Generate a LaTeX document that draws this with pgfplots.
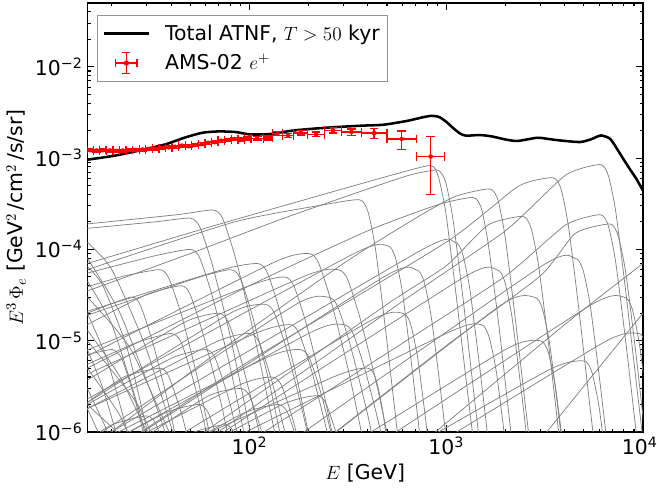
\documentclass[border=0pt]{standalone}
\usepackage{fontspec}
\setmainfont{DejaVu Sans}
\usepackage{pgfplots}
\pgfplotsset{compat=1.18}
\usepackage{pgfplotstable}
\usetikzlibrary{calc}

\newcommand{\fs}{\fontsize{15.3}{18.4}\selectfont}

\pgfplotsset{
 psr/.style={color=gray, line width=0.55pt, smooth, tension=0.35, forget plot},
 amsleg/.style={legend image code/.code={
   \path[draw=none, fill=none] (0pt,-1pt) rectangle (44pt,1pt);
   \draw[red, line width=1pt] (9pt,0pt) -- (25pt,0pt);
   \draw[red, line width=1pt] (17pt,-8pt) -- (17pt,8pt);
   \draw[red, line width=1pt] (9pt,-3pt) -- (9pt,3pt);
   \draw[red, line width=1pt] (25pt,-3pt) -- (25pt,3pt);
   \draw[red, line width=1pt] (14pt,-8pt) -- (20pt,-8pt);
   \draw[red, line width=1pt] (14pt,8pt) -- (20pt,8pt);
   \fill[red] (17pt,0pt) circle (1.6pt);
 }},
 totleg/.style={legend image code/.code={
   \path[draw=none, fill=none] (0pt,-1pt) rectangle (44pt,1pt);
   \draw[black, line width=1.9pt] (0pt,0pt) -- (34pt,0pt);}},
}

\pgfplotstableread{
E V exm exp eym eyp
15.5 1.22e-3 0.58 0.60 4e-5 4e-5
16.7 1.21e-3 0.63 0.65 4e-5 4e-5
18.0 1.22e-3 0.68 0.70 4e-5 4e-5
19.5 1.21e-3 0.73 0.76 4e-5 4e-5
21.0 1.20e-3 0.79 0.82 4e-5 4e-5
22.7 1.21e-3 0.85 0.89 4e-5 4e-5
24.5 1.22e-3 0.92 0.96 4e-5 4e-5
26.5 1.23e-3 0.99 1.03 4e-5 4e-5
28.6 1.24e-3 1.07 1.12 4e-5 4e-5
30.9 1.26e-3 1.16 1.21 4e-5 4e-5
33.4 1.27e-3 1.25 1.30 4.5e-5 4.5e-5
36.0 1.29e-3 1.35 1.40 4.5e-5 4.5e-5
38.9 1.31e-3 1.46 1.52 4.5e-5 4.5e-5
42.0 1.33e-3 1.58 1.64 5e-5 5e-5
45.4 1.37e-3 1.70 1.77 5e-5 5e-5
49.0 1.35e-3 1.84 1.91 5e-5 5e-5
52.9 1.39e-3 1.98 2.06 5e-5 5e-5
57.2 1.42e-3 2.15 2.23 5.5e-5 5.5e-5
61.7 1.47e-3 2.31 2.41 5.5e-5 5.5e-5
66.7 1.50e-3 2.50 2.60 5.5e-5 5.5e-5
72.0 1.55e-3 2.70 2.81 6e-5 6e-5
77.8 1.58e-3 2.92 3.03 6e-5 6e-5
84.0 1.62e-3 3.15 3.28 6e-5 6e-5
90.7 1.60e-3 3.40 3.54 6.5e-5 6.5e-5
98.0 1.64e-3 3.68 3.82 6.5e-5 6.5e-5
109.6 1.65e-3 7.8 8.4 7e-5 7e-5
124.3 1.66e-3 6.3 6.7 8e-5 8e-5
138.8 1.85e-3 7.8 8.2 9e-5 9e-5
157.1 1.77e-3 10.1 10.9 9e-5 9e-5
182.4 1.89e-3 14.4 15.6 1.0e-4 1.0e-4
218.4 1.82e-3 20.4 22.6 1.1e-4 1.1e-4
265.7 2.02e-3 24.7 27.3 1.3e-4 1.3e-4
329.3 1.93e-3 36.3 40.7 1.6e-4 1.6e-4
430.1 1.88e-3 60.1 69.9 2.3e-4 2.3e-4
594.1 1.62e-3 94.1 111.9 3.7e-4 3.6e-4
833.1 1.04e-3 127.1 149.9 6.4e-4 6.7e-4
}\ams

\begin{document}
\begin{tikzpicture}
\begin{axis}[
  scale only axis, width=416.8pt, height=321.75pt,
  xmode=log, ymode=log,
  xmin=15, xmax=10000, ymin=1e-6, ymax=5e-2,
  axis line style={black, line width=0.9pt},
  tick align=inside, tick pos=both,
  major tick length=5pt, minor tick length=2.5pt,
  every tick/.style={black, line width=0.8pt},
  xtick={100,1000,10000},
  xticklabels={10\textsuperscript{2},10\textsuperscript{3},10\textsuperscript{4}\kern5pt},
  minor xtick={20,30,40,50,60,70,80,90,200,300,400,500,600,700,800,900,2000,3000,4000,5000,6000,7000,8000,9000},
  ytick={1e-6,1e-5,1e-4,1e-3,1e-2},
  yticklabels={10\textsuperscript{−6},10\textsuperscript{−5},10\textsuperscript{−4},10\textsuperscript{−3},10\textsuperscript{−2}},
  minor ytick={2e-6,3e-6,4e-6,5e-6,6e-6,7e-6,8e-6,9e-6,2e-5,3e-5,4e-5,5e-5,6e-5,7e-5,8e-5,9e-5,2e-4,3e-4,4e-4,5e-4,6e-4,7e-4,8e-4,9e-4,2e-3,3e-3,4e-3,5e-3,6e-3,7e-3,8e-3,9e-3,2e-2,3e-2,4e-2},
  tick label style={font=\fs},
  label style={font=\fs},
  xlabel={$E$ [GeV]},
  ylabel={$E^3\,\Phi_e$ [GeV$^2$\,/cm$^2$\,/s/sr]},
  legend cell align=left,
  legend style={at={(0,1)}, anchor=north west, xshift=7pt, yshift=-9pt,
    draw=gray!85, line width=0.75pt, font=\fs, inner xsep=4pt, inner ysep=5pt, row sep=5pt},
]
\addlegendimage{totleg}
\addlegendentry{Total ATNF, $T>50$ kyr}
\addlegendimage{amsleg}
\addlegendentry{AMS-02 $e^+$}

% ---- individual pulsars ----
\addplot[psr] coordinates {(15,7e-5) (65,1.8e-4) (200,3.6e-4) (500,6.3e-4) (830,8.3e-4) (913,6.2e-4) (996,2.5e-4) (1120,3.3e-5) (1290,2.5e-6) (1500,1.7e-7)};
\addplot[psr] coordinates {(15,3.5e-5) (50,9e-5) (150,2.2e-4) (400,4.6e-4) (650,6.5e-4) (900,7.4e-4) (990,5.6e-4) (1080,2.2e-4) (1215,3e-5) (1395,2.2e-6) (1620,1.5e-7)};
\addplot[psr] coordinates {(16,7e-7) (60,6e-6) (300,7e-5) (700,2.2e-4) (1110,3.8e-4) (1660,4.6e-4) (1830,3.5e-4) (1990,1.4e-4) (2240,1.8e-5) (2570,1.4e-6) (3000,9e-8)};
\addplot[psr] coordinates {(22,7e-7) (100,6e-6) (1000,1.2e-4) (2320,4.9e-4) (3480,6.1e-4) (3830,4.6e-4) (4180,1.8e-4) (4700,2.4e-5) (5390,1.8e-6) (6260,1.2e-7)};
\addplot[psr] coordinates {(60,8e-7) (600,2.7e-5) (2000,1.6e-4) (4040,6.5e-4) (6060,8.5e-4) (6670,6.4e-4) (7270,2.6e-4) (8180,3.4e-5) (9390,2.6e-6) (10900,1.7e-7)};
\addplot[psr] coordinates {(55,9e-7) (500,2.5e-5) (1000,6.6e-5) (1630,1.85e-4) (2450,2.3e-4) (2700,1.7e-4) (2940,6.9e-5) (3310,9.2e-6) (3800,6.9e-7)};
\addplot[psr] coordinates {(110,9e-7) (600,9.4e-6) (2000,5.1e-5) (4040,1.85e-4) (6060,2.4e-4) (6670,1.8e-4) (7270,7.2e-5) (8180,9.6e-6) (9390,7.2e-7)};
\addplot[psr] coordinates {(240,8e-7) (1000,8.8e-6) (3000,5.1e-5) (4530,1.5e-4) (6800,1.9e-4) (7480,1.4e-4) (8160,5.7e-5) (9180,7.6e-6) (10500,5.7e-7)};
\addplot[psr] coordinates {(15,5e-6) (100,4e-5) (400,1.6e-4) (913,3.1e-4) (1370,3.7e-4) (1510,2.8e-4) (1640,1.1e-4) (1850,1.5e-5) (2120,1.1e-6) (2470,7.4e-8)};
\addplot[psr] coordinates {(15,6e-5) (84,2.0e-4) (242,3.1e-4) (363,3.5e-4) (400,2.6e-4) (436,1.05e-4) (490,1.4e-5) (563,1.05e-6) (653,7e-8)};
\addplot[psr] coordinates {(15,1.9e-4) (43,2.4e-4) (65,2.7e-4) (73,2.2e-4) (85,8e-5) (104,1.35e-5) (137,8e-7) (180,3e-8)};
\addplot[psr] coordinates {(15,1.7e-4) (33,2.0e-4) (50,2.2e-4) (56,1.75e-4) (65,6.6e-5) (80,1.1e-5) (105,6.6e-7) (140,2.2e-8)};
\addplot[psr] coordinates {(15,2.3e-6) (333,8.8e-5) (500,1.1e-4) (550,8.3e-5) (600,3.3e-5) (675,4.4e-6) (775,3.3e-7)};
\addplot[psr] coordinates {(17.5,5e-7) (467,4.8e-5) (700,6e-5) (770,4.5e-5) (840,1.8e-5) (945,2.4e-6) (1085,1.8e-7)};
\addplot[psr] coordinates {(15,7e-7) (733,9.6e-5) (1100,1.2e-4) (1210,9e-5) (1320,3.6e-5) (1485,4.8e-6) (1705,3.6e-7)};
\addplot[psr] coordinates {(45,5e-7) (1200,4.8e-5) (1800,6e-5) (1980,4.5e-5) (2160,1.8e-5) (2430,2.4e-6) (2790,1.8e-7)};
\addplot[psr] coordinates {(183,5e-7) (1870,2.4e-5) (2800,3e-5) (3080,2.25e-5) (3360,9e-6) (3780,1.2e-6) (4340,9e-8)};
\addplot[psr] coordinates {(120,5e-7) (3000,6.4e-5) (4500,8e-5) (4950,6e-5) (5400,2.4e-5) (6075,3.2e-6) (6975,2.4e-7)};
\addplot[psr] coordinates {(248,5e-7) (2000,8e-6) (3000,1e-5) (3300,7.5e-6) (3600,3e-6) (4050,4e-7)};
\addplot[psr] coordinates {(342,5e-7) (5330,2.4e-5) (8000,3e-5) (8800,2.25e-5) (9600,9e-6) (10800,1.2e-6)};
\addplot[psr] coordinates {(50,5e-7) (1000,1.2e-5) (1500,1.5e-5) (1650,1.1e-5) (1800,4.5e-6) (2025,6e-7)};
\addplot[psr] coordinates {(522,5e-7) (3330,4.8e-6) (5000,6e-6) (5500,4.5e-6) (6000,1.8e-6) (6750,2.4e-7)};
\addplot[psr] coordinates {(27.8,5e-7) (400,1.6e-5) (600,2e-5) (660,1.5e-5) (720,6e-6) (810,8e-7) (930,6e-8)};
\addplot[psr] coordinates {(31,5e-7) (267,4e-6) (400,5e-6) (440,3.75e-6) (480,1.5e-6) (540,2e-7)};
\addplot[psr] coordinates {(672,5e-7) (6330,9.6e-6) (9500,1.2e-5) (10450,9e-6)};
\addplot[psr] coordinates {(600,5e-7) (4000,1.5e-5) (10000,7e-5)};
\addplot[psr] coordinates {(2500,5e-7) (10000,2e-5)};
\addplot[psr] coordinates {(15,6.8e-6) (133,7.2e-5) (200,9e-5) (224,7.2e-5) (260,2.7e-5) (320,4.5e-6) (420,2.7e-7)};
\addplot[psr] coordinates {(15,7.9e-6) (100,4e-5) (150,5e-5) (168,4e-5) (195,1.5e-5) (240,2.5e-6) (315,1.5e-7)};
\addplot[psr] coordinates {(15,2.1e-6) (80,2e-5) (120,2.5e-5) (134,2e-5) (156,7.5e-6) (192,1.25e-6) (252,7.5e-8)};
\addplot[psr] coordinates {(15,7.8e-7) (167,2.4e-5) (250,3e-5) (280,2.4e-5) (325,9e-6) (400,1.5e-6) (525,9e-8)};
\addplot[psr] coordinates {(15,5.6e-7) (200,1.2e-5) (300,1.5e-5) (336,1.2e-5) (390,4.5e-6) (480,7.5e-7) (630,4.5e-8)};
\addplot[psr] coordinates {(15,1.9e-5) (53,4.8e-5) (80,6e-5) (90,4.8e-5) (104,1.8e-5) (128,3e-6) (168,1.8e-7)};
\addplot[psr] coordinates {(15,1.8e-6) (67,9.6e-6) (100,1.2e-5) (112,9.6e-6) (130,3.6e-6) (160,6e-7) (210,3.6e-8)};
\addplot[psr] coordinates {(15,3.7e-6) (47,1.6e-5) (70,2e-5) (78,1.6e-5) (91,6e-6) (112,1e-6) (147,6e-8)};
\addplot[psr] coordinates {(15,1.5e-5) (30,3.2e-5) (45,4e-5) (50,3.2e-5) (58,1.2e-5) (72,2e-6) (95,1.2e-7)};
\addplot[psr] coordinates {(15,6.7e-7) (120,6.4e-6) (180,8e-6) (202,6.4e-6) (234,2.4e-6) (288,4e-7)};
\addplot[psr] coordinates {(16.3,5e-7) (87,3.2e-6) (130,4e-6) (146,3.2e-6) (169,1.2e-6) (208,2e-7)};
\addplot[psr] coordinates {(15,2e-6) (40,6.4e-6) (60,8e-6) (67,6.4e-6) (78,2.4e-6) (96,4e-7)};
\addplot[psr] coordinates {(15,5.5e-6) (27,9.6e-6) (40,1.2e-5) (45,9.6e-6) (52,3.6e-6) (64,6e-7) (84,3.6e-8)};
\addplot[psr] coordinates {(20,5e-7) (60,2.4e-6) (90,3e-6) (101,2.4e-6) (117,9e-7) (144,1.5e-7)};
\addplot[psr] coordinates {(44,5e-7) (147,2e-6) (220,2.5e-6) (246,2e-6) (286,7.5e-7) (352,1.25e-7)};
\addplot[psr] coordinates {(15,2.1e-6) (23,4e-6) (35,5e-6) (39,4e-6) (45.5,1.5e-6) (56,2.5e-7)};
\addplot[psr] coordinates {(15,5.5e-7) (37,1.6e-6) (55,2e-6) (62,1.6e-6) (72,6e-7) (88,1e-7)};
\addplot[psr] coordinates {(15,1.8e-6) (107,1.2e-5) (160,1.5e-5) (179,1.2e-5) (208,4.5e-6) (256,7.5e-7) (336,4.5e-8)};
\addplot[psr] coordinates {(15,2.1e-5) (73,6e-5) (110,7e-5) (123,5.6e-5) (143,2.1e-5) (176,3.5e-6) (231,2.1e-7)};
\addplot[psr] coordinates {(15,4.3e-6) (187,5e-5) (280,6e-5) (314,4.8e-5) (364,1.8e-5) (448,3e-6) (588,1.8e-7)};
\addplot[psr] coordinates {(15,2e-5) (25,3e-5) (28,2.4e-5) (32.5,9e-6) (40,1.5e-6) (52.5,9e-8)};
\addplot[psr] coordinates {(15,7e-6) (20,8e-6) (22.4,6.4e-6) (26,2.4e-6) (32,4e-7) (42,2.4e-8)};
\addplot[psr] coordinates {(15,8e-7) (20,1.2e-6) (30,1.5e-6) (33.6,1.2e-6) (39,4.5e-7)};
\addplot[psr] coordinates {(25,4e-7) (50,9.6e-7) (75,1.2e-6) (84,9.6e-7) (97.5,3.6e-7)};
\addplot[psr] coordinates {(35,5e-7) (93,1.6e-6) (140,2e-6) (157,1.6e-6) (182,6e-7)};
\addplot[psr] coordinates {(15,5.5e-5) (33,8.5e-5) (50,1e-4) (56,8e-5) (65,3e-5) (80,5e-6) (105,3e-7)};
\addplot[psr] coordinates {(15,3.9e-5) (23,5.1e-5) (35,6e-5) (39,4.8e-5) (45.5,1.8e-5) (56,3e-6) (73.5,1.8e-7)};
\addplot[psr] coordinates {(15,1.2e-4) (20,6e-5) (30,8e-6) (45,5e-7)};
\addplot[psr] coordinates {(15,8e-5) (22,2e-5) (35,1.5e-6) (42,4e-7)};
\addplot[psr] coordinates {(15,4.5e-5) (20,1.5e-5) (28,1.5e-6) (33,3e-7)};
\addplot[psr] coordinates {(15,3e-5) (25,8e-6) (45,5e-7)};
\addplot[psr] coordinates {(15,2e-5) (19,6e-6) (25,7e-7) (28,2e-7)};
\addplot[psr] coordinates {(15,1.3e-5) (22,4e-6) (35,5e-7)};
\addplot[psr] coordinates {(15,8e-6) (18,3e-6) (23,5e-7)};
\addplot[psr] coordinates {(15,5e-6) (22,1.5e-6) (30,3e-7)};
\addplot[psr] coordinates {(15,3e-6) (19,1e-6) (24,2.5e-7)};
\addplot[psr] coordinates {(15,2e-6) (30,5e-7)};
\addplot[psr] coordinates {(15,6.5e-5) (18,4e-5) (24,8e-6) (32,6e-7)};
\addplot[psr] coordinates {(15,1.8e-6) (17,1e-6) (20,4e-7)};
\addplot[psr] coordinates {(15,1e-5) (27,2e-6) (40,3e-7)};

% ---- total ----
\addplot[black, line width=1.9pt, smooth, tension=0.4, forget plot] coordinates {
(15,9.6e-4) (21,1.07e-3) (30,1.26e-3) (38,1.43e-3) (47,1.68e-3) (58,1.9e-3) (70,1.96e-3) (85,1.93e-3) (100,1.82e-3) (125,1.83e-3) (172,2.02e-3) (260,2.17e-3) (380,2.27e-3) (480,2.32e-3) (630,2.55e-3) (760,2.8e-3) (840,2.9e-3) (920,2.82e-3) (1000,2.5e-3) (1080,2.15e-3) (1180,1.85e-3) (1265,1.76e-3) (1480,1.79e-3) (1700,1.73e-3) (2000,1.6e-3) (2300,1.54e-3) (2900,1.67e-3) (3300,1.62e-3) (3800,1.56e-3) (4800,1.50e-3) (5500,1.62e-3) (6100,1.77e-3) (6800,1.63e-3) (7400,1.25e-3) (7940,9.8e-4) (8600,7.5e-4) (9262,5.9e-4) (10000,4.4e-4)};

% ---- AMS-02 ----
\addplot[color=red, only marks, mark=*, mark size=1.5pt, mark options={fill=red, draw=red}, forget plot,
  error bars/.cd, x dir=both, x explicit, y dir=both, y explicit,
  error bar style={color=red, line width=1pt},
  error mark options={rotate=90, color=red, mark size=3.2pt, line width=1pt}]
  table[x=E, y=V, x error plus=exp, x error minus=exm, y error plus=eyp, y error minus=eym] {\ams};

\coordinate (bl) at (rel axis cs:0,0);
\coordinate (tr) at (rel axis cs:1,1);
\end{axis}
\pgfresetboundingbox
\path ($(bl)+(-65.5pt,-44.25pt)$) rectangle ($(tr)+(10.5pt,2.25pt)$);
\end{tikzpicture}
\end{document}
